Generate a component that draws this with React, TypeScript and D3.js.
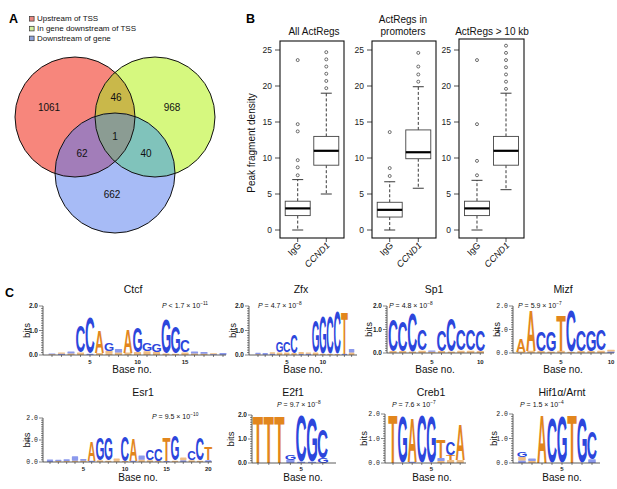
import React from "react";
import * as d3 from "d3";

const FONT = "'Liberation Sans', Arial, Helvetica, sans-serif";
const MONO = "'Liberation Mono', 'DejaVu Sans Mono', monospace";

// ---------------- Panel A data ----------------
const vennSetNames = ["Upstream of TSS", "In gene downstream of TSS", "Downstream of gene"];
const vennRegionKeys = ["U", "I", "D", "UI", "UD", "ID", "UID"];
const vennRegionCounts = [1061, 968, 662, 46, 62, 40, 1];

// ---------------- Panel B data ----------------
const boxTitles = [["All ActRegs"], ["ActRegs in", "promoters"], ["ActRegs > 10 kb"]];
const boxGroups = ["IgG", "CCND1"];
const boxYTicks = [0, 5, 10, 15, 20, 25];
// [lower whisker, q1, median, q3, upper whisker]
const allIgGStats = [0, 2, 3, 4, 7];
const allCCND1Stats = [5, 9, 11, 13, 19];
const allIgGOut = [7.6, 8.7, 9.7, 13.7, 14.7, 23.6];
const allCCND1Out = [19.7, 20.7, 21.7, 22.7, 23.7, 24.7];
const promIgGStats = [0, 1.8, 2.8, 3.85, 6.7];
const promCCND1Stats = [5.8, 9.9, 10.8, 13.9, 19.9];
const promIgGOut = [7.5, 8.6, 13.6];
const promCCND1Out = [20.6, 21.6, 22.7, 24.6];
const kbIgGStats = [0, 2, 3, 4, 6.9];
const kbCCND1Stats = [5.6, 9, 11, 13, 19];
const kbIgGOut = [7.6, 9.6, 14.7, 23.6];
const kbCCND1Out = [19.6, 20.6, 21.6, 22.6, 23.6, 24.6, 25.6];

// ---------------- Panel C data ----------------
type Col = [string, number][];
const motifNames = ["Ctcf", "Zfx", "Sp1", "Mizf", "Esr1", "E2f1", "Creb1", "Hif1α/Arnt"];
const motifRel = ["<", "=", "=", "=", "=", "=", "=", "="];
const motifMant = ["1.7", "4.7", "4.8", "5.9", "9.5", "9.7", "7.6", "1.5"];
const motifExp = ["−11", "−8", "−8", "−7", "−10", "−8", "−7", "−4"];
const logoYTicks = ["0.0", "1.0", "2.0"];

const ctcfCols: Col[] = [
  [["T", 0.03], ["C", 0.03]],
  [["G", 0.05], ["A", 0.05]],
  [["C", 0.08], ["T", 0.06]],
  [["C", 1.06], ["T", 0.06], ["A", 0.04]],
  [["C", 1.47], ["G", 0.05]],
  [["A", 0.9], ["T", 0.08]],
  [["G", 0.3], ["A", 0.12], ["T", 0.05]],
  [["C", 0.15], ["T", 0.1]],
  [["A", 0.95], ["T", 0.1]],
  [["G", 1.0], ["A", 0.12]],
  [["G", 0.3], ["A", 0.15]],
  [["G", 0.3], ["T", 0.12]],
  [["G", 1.4], ["T", 0.06]],
  [["G", 1.05], ["A", 0.05]],
  [["C", 0.5], ["T", 0.1]],
  [["G", 0.08], ["A", 0.06]],
  [["C", 0.07], ["A", 0.05]],
  [["A", 0.04], ["C", 0.03]],
  [["C", 0.05], ["G", 0.03]],
];
const zfxCols: Col[] = [
  [["C", 0.06], ["A", 0.03]],
  [["C", 0.05], ["G", 0.03]],
  [["A", 0.06], ["C", 0.05]],
  [["G", 0.4], ["A", 0.1]],
  [["C", 0.45], ["A", 0.1]],
  [["C", 0.75], ["A", 0.08]],
  [["A", 0.08], ["C", 0.04]],
  [["G", 0.05], ["A", 0.05]],
  [["G", 1.3], ["A", 0.1]],
  [["G", 1.5], ["A", 0.05]],
  [["C", 1.5], ["T", 0.05]],
  [["C", 1.7], ["A", 0.04]],
  [["T", 1.7], ["C", 0.05]],
  [["C", 0.15], ["A", 0.1]],
];
const sp1Cols: Col[] = [
  [["C", 1.33], ["A", 0.08]],
  [["C", 1.28], ["T", 0.08]],
  [["C", 1.6], ["A", 0.06]],
  [["C", 0.9], ["A", 0.1]],
  [["C", 0.06], ["A", 0.05]],
  [["C", 0.9], ["T", 0.08]],
  [["C", 1.4], ["A", 0.06]],
  [["C", 0.9], ["T", 0.1]],
  [["C", 0.9], ["A", 0.1]],
  [["C", 0.9], ["A", 0.08]],
];
const mizfCols: Col[] = [
  [["A", 0.55], ["T", 0.06]],
  [["A", 1.7], ["T", 0.1]],
  [["C", 0.85], ["A", 0.08]],
  [["G", 0.85], ["A", 0.06]],
  [["T", 1.5], ["A", 0.1]],
  [["C", 1.75], ["T", 0.05]],
  [["C", 0.9], ["A", 0.08]],
  [["G", 0.9], ["T", 0.08]],
  [["C", 0.9], ["A", 0.1]],
  [["A", 0.08], ["C", 0.06]],
];
const esr1Cols: Col[] = [
  [["C", 0.06], ["G", 0.05]],
  [["G", 0.06], ["A", 0.04]],
  [["C", 0.07], ["A", 0.05]],
  [["C", 0.2], ["T", 0.06]],
  [["G", 0.08], ["A", 0.06]],
  [["A", 0.85], ["G", 0.06]],
  [["G", 1.0], ["A", 0.08]],
  [["G", 1.0], ["T", 0.06]],
  [["T", 0.1], ["A", 0.06]],
  [["C", 1.12], ["T", 0.05]],
  [["A", 1.0], ["G", 0.06]],
  [["G", 0.2], ["A", 0.1]],
  [["C", 0.45], ["A", 0.08]],
  [["C", 0.55], ["T", 0.06]],
  [["T", 1.08], ["C", 0.05]],
  [["G", 1.15], ["A", 0.06]],
  [["A", 0.12], ["C", 0.08]],
  [["C", 0.4], ["T", 0.08]],
  [["C", 1.0], ["A", 0.06]],
  [["T", 0.6], ["C", 0.08]],
];
const e2f1Cols: Col[] = [
  [["T", 1.97]],
  [["T", 1.97]],
  [["T", 1.97]],
  [["G", 0.22], ["C", 0.14]],
  [["C", 1.9], ["G", 0.05]],
  [["G", 1.8], ["C", 0.05]],
  [["C", 1.2], ["G", 0.2]],
];
const creb1Cols: Col[] = [
  [["T", 1.95]],
  [["G", 1.9]],
  [["A", 1.8], ["C", 0.05]],
  [["C", 1.95]],
  [["G", 1.9]],
  [["T", 0.75], ["C", 0.12], ["A", 0.08]],
  [["C", 0.55], ["T", 0.2], ["A", 0.12]],
  [["A", 1.45], ["T", 0.12]],
];
const hif1Cols: Col[] = [
  [["G", 0.2], ["A", 0.15], ["C", 0.1]],
  [["C", 0.1], ["A", 0.08]],
  [["A", 1.95]],
  [["C", 1.85]],
  [["G", 1.9]],
  [["T", 1.95]],
  [["G", 1.85]],
  [["C", 1.15], ["G", 0.15]],
];
const motifCols = [ctcfCols, zfxCols, sp1Cols, mizfCols, esr1Cols, e2f1Cols, creb1Cols, hif1Cols];
const motifTickLabels = [[5, 10, 15], [5, 10], [5, 10], [5, 10], [5, 10, 15, 20], [5], [5], [5]];

// ---------------- Layout (positions/styles) ----------------
const vennCircles = [
  { cx: 75, cy: 117, fill: "#F7867C" },
  { cx: 155, cy: 117, fill: "#D6F87F" },
  { cx: 115, cy: 173, fill: "#A7BBF6" },
];
const VR = 60;
const vennLabelPos: Record<string, [number, number]> = {
  U: [49, 111], I: [172, 111], D: [112, 198], UI: [116, 101], UD: [82, 157], ID: [146, 157], UID: [115, 140],
};
const legendSwatch = ["#E8877F", "#D2EE9C", "#8EA2DA"];

const boxFrames = [
  { left: 280, right: 344, top: 41, titleX: 314 },
  { left: 372, right: 436, top: 41, titleX: 403 },
  { left: 459, right: 524, top: 39, titleX: 492 },
];
const BOX_BOTTOM = 238;

type LogoLayout = {
  axisX: number; xEnd: number; zeroY: number; twoY: number; pos1: number; step: number;
  titleX: number; titleY: number; pX: number; pY: number; bitsX: number; baseX: number; baseY: number;
  tickY: number; mono: boolean;
};
const logoLayouts: LogoLayout[] = [
  { axisX: 43, xEnd: 226, zeroY: 355, twoY: 306, pos1: 52, step: 9.5, titleX: 133, titleY: 293, pX: 162, pY: 308, bitsX: 30, baseX: 132, baseY: 373, tickY: 364, mono: false },
  { axisX: 249, xEnd: 357, zeroY: 355, twoY: 306, pos1: 258, step: 7.2, titleX: 301, titleY: 293, pX: 258, pY: 308, bitsX: 236, baseX: 303, baseY: 373, tickY: 364, mono: false },
  { axisX: 387, xEnd: 484, zeroY: 353, twoY: 306, pos1: 393, step: 9.7, titleX: 434, titleY: 293, pX: 389, pY: 308, bitsX: 372, baseX: 435, baseY: 373, tickY: 364, mono: false },
  { axisX: 513, xEnd: 614, zeroY: 353, twoY: 306, pos1: 521, step: 10, titleX: 563, titleY: 293, pX: 518, pY: 308, bitsX: 500, baseX: 563, baseY: 373, tickY: 364, mono: true },
  { axisX: 43, xEnd: 212, zeroY: 462, twoY: 418, pos1: 50, step: 8.33, titleX: 143, titleY: 396, pX: 152, pY: 419, bitsX: 30, baseX: 138, baseY: 481, tickY: 471, mono: true },
  { axisX: 252, xEnd: 336, zeroY: 463, twoY: 415, pos1: 258, step: 10.8, titleX: 293, titleY: 396, pX: 277, pY: 407, bitsX: 234, baseX: 303, baseY: 481, tickY: 471, mono: false },
  { axisX: 385, xEnd: 466, zeroY: 463, twoY: 414, pos1: 393, step: 9.6, titleX: 431, titleY: 396, pX: 392, pY: 407, bitsX: 367, baseX: 432, baseY: 481, tickY: 471, mono: true },
  { axisX: 513, xEnd: 600, zeroY: 463, twoY: 414, pos1: 522, step: 10, titleX: 562, titleY: 396, pX: 520, pY: 407, bitsX: 497, baseX: 562, baseY: 481, tickY: 471, mono: true },
];

const letterColor: Record<string, string> = { A: "#E2861D", T: "#E2861D", C: "#2C46DC", G: "#2C46DC" };

type GM = { l: number; r: number; t: number; b: number };
let glyphCache: Record<string, GM> | null = null;
function glyphs(): Record<string, GM> {
  if (glyphCache) return glyphCache;
  const res: Record<string, GM> = {};
  let ctx: CanvasRenderingContext2D | null = null;
  try { ctx = document.createElement("canvas").getContext("2d"); } catch (e) { ctx = null; }
  for (const L of ["A", "C", "G", "T"]) {
    let m: GM = { l: 0, r: 70, t: -72, b: 0 };
    if (ctx) {
      ctx.font = "bold 100px 'Liberation Sans'";
      const mm = ctx.measureText(L);
      if (mm.actualBoundingBoxRight !== undefined) {
        m = { l: -mm.actualBoundingBoxLeft, r: mm.actualBoundingBoxRight, t: -mm.actualBoundingBoxAscent, b: mm.actualBoundingBoxDescent };
      }
    }
    res[L] = m;
  }
  glyphCache = res;
  return res;
}

function PValue({ x, y, rel, mant, exp }: { x: number; y: number; rel: string; mant: string; exp: string }) {
  return (
    <text x={x} y={y} fontSize={7} fontFamily={FONT} fill="#111">
      <tspan fontStyle="italic">P</tspan>
      <tspan>{` ${rel} ${mant} × 10`}</tspan>
      <tspan fontSize={4.8} dy={-3}>{exp}</tspan>
    </text>
  );
}

function Logo({ idx }: { idx: number }) {
  const L = logoLayouts[idx];
  const cols = motifCols[idx];
  const gm = glyphs();
  const y = d3.scaleLinear().domain([0, 2]).range([L.zeroY, L.twoY]);
  const x = (i: number) => L.pos1 + (i - 1) * L.step;
  const lw = L.step * 0.94;
  const minor = d3.range(0, 2.0001, 0.1);
  const letters: React.ReactNode[] = [];
  cols.forEach((col, ci) => {
    const sorted = [...col].sort((a, b) => a[1] - b[1]);
    let base = 0;
    const cx = x(ci + 1);
    sorted.forEach(([ch, h], k) => {
      const yBot = y(base);
      const yTop = y(base + h);
      base += h;
      const hh = yBot - yTop;
      if (hh < 0.4) return;
      if (hh < 4.5) {
        // tiny letters render as small colour blobs
        letters.push(
          <rect key={`${ci}-${k}`} x={cx - lw * 0.4} y={yTop} width={lw * 0.8} height={hh}
            fill={letterColor[ch]} opacity={0.55} rx={0.6} />
        );
        return;
      }
      const m = gm[ch];
      const sx = lw / (m.r - m.l);
      const sy = hh / (m.b - m.t);
      letters.push(
        <text key={`${ci}-${k}`} x={0} y={0} fontSize={100} fontWeight="bold" fontFamily="'Liberation Sans', Arial, sans-serif"
          fill={letterColor[ch]}
          transform={`translate(${cx - lw / 2},${yTop}) scale(${sx},${sy}) translate(${-m.l},${-m.t})`}>
          {ch}
        </text>
      );
    });
  });
  const tickFont = L.mono ? MONO : FONT;
  return (
    <g>
      <text x={L.titleX} y={L.titleY} fontSize={10.5} fontFamily={FONT} textAnchor="middle" fill="#111">{motifNames[idx]}</text>
      <PValue x={L.pX} y={L.pY} rel={motifRel[idx]} mant={motifMant[idx]} exp={motifExp[idx]} />
      {letters}
      <line x1={L.axisX} x2={L.axisX} y1={y(0)} y2={y(2)} stroke="#333" strokeWidth={0.8} />
      <line x1={L.axisX} x2={L.xEnd} y1={y(0)} y2={y(0)} stroke="#333" strokeWidth={0.8} />
      {minor.map((v, i) => (
        <line key={i} x1={L.axisX - (i % 10 === 0 ? 4 : 2)} x2={L.axisX} y1={y(v)} y2={y(v)} stroke="#333" strokeWidth={0.6} />
      ))}
      {logoYTicks.map((t) => (
        <text key={t} x={L.axisX - 5} y={y(+t)} dy="0.35em" fontSize={6.5} fontWeight={L.mono ? "normal" : "bold"} fontFamily={tickFont} textAnchor="end" fill="#222">{t}</text>
      ))}
      {cols.map((_, i) => (
        <line key={i} x1={x(i + 1)} x2={x(i + 1)} y1={y(0)} y2={y(0) + 2} stroke="#333" strokeWidth={0.6} />
      ))}
      {motifTickLabels[idx].map((t) => (
        <text key={t} x={x(t)} y={L.tickY} fontSize={6} fontWeight="bold" fontFamily={FONT} textAnchor="middle" fill="#222">{t}</text>
      ))}
      <text x={L.baseX} y={L.baseY} fontSize={10} fontFamily={FONT} textAnchor="middle" fill="#111">Base no.</text>
      <text transform={`translate(${L.bitsX},${(y(0) + y(2)) / 2}) rotate(-90)`} fontSize={9.5} fontFamily={FONT} textAnchor="middle" fill="#111">bits</text>
    </g>
  );
}

function BoxPanel({ idx }: { idx: number }) {
  const F = boxFrames[idx];
  const stats = [[allIgGStats, allCCND1Stats], [promIgGStats, promCCND1Stats], [kbIgGStats, kbCCND1Stats]][idx];
  const outs = [[allIgGOut, allCCND1Out], [promIgGOut, promCCND1Out], [kbIgGOut, kbCCND1Out]][idx];
  const y = d3.scaleLinear().domain([0, 25]).range([230, 50]);
  const x = d3.scalePoint<string>().domain(boxGroups).range([F.left, F.right]).padding(0.62);
  const bw = 25;
  const cap = 11;
  const title = boxTitles[idx];
  return (
    <g fontFamily={FONT}>
      {title.map((t, i) => (
        <text key={i} x={F.titleX} y={35 - (title.length - 1 - i) * 12} fontSize={10} textAnchor="middle" fill="#111">{t}</text>
      ))}
      {boxYTicks.map((t) => (
        <g key={t}>
          <line x1={F.left - 5} x2={F.left} y1={y(t)} y2={y(t)} stroke="#222" strokeWidth={0.8} />
          <text x={F.left - 8} y={y(t)} dy="0.35em" fontSize={8.5} textAnchor="end" fill="#222">{t}</text>
        </g>
      ))}
      {boxGroups.map((g, gi) => {
        const cx = x(g)!;
        const [lo, q1, med, q3, hi] = stats[gi];
        return (
          <g key={g}>
            <line x1={cx} x2={cx} y1={y(q3)} y2={y(hi)} stroke="#222" strokeWidth={0.9} strokeDasharray="3,2" />
            <line x1={cx} x2={cx} y1={y(q1)} y2={y(lo)} stroke="#222" strokeWidth={0.9} strokeDasharray="3,2" />
            <line x1={cx - cap / 2} x2={cx + cap / 2} y1={y(hi)} y2={y(hi)} stroke="#222" strokeWidth={0.9} />
            <line x1={cx - cap / 2} x2={cx + cap / 2} y1={y(lo)} y2={y(lo)} stroke="#222" strokeWidth={0.9} />
            <rect x={cx - bw / 2} y={y(q3)} width={bw} height={y(q1) - y(q3)} fill="#fff" stroke="#444" strokeWidth={0.9} />
            <line x1={cx - bw / 2} x2={cx + bw / 2} y1={y(med)} y2={y(med)} stroke="#000" strokeWidth={2.2} />
            {outs[gi].map((v, k) => (
              <circle key={k} cx={cx} cy={y(v)} r={1.5} fill="none" stroke="#333" strokeWidth={0.7} />
            ))}
            <line x1={cx} x2={cx} y1={BOX_BOTTOM} y2={BOX_BOTTOM + 4} stroke="#222" strokeWidth={0.8} />
            <text transform={`translate(${cx + 4},${BOX_BOTTOM + 8}) rotate(-45)`} fontSize={9} textAnchor="end"
              fontStyle={g === "CCND1" ? "italic" : "normal"} fill="#111">{g}</text>
          </g>
        );
      })}
      <rect x={F.left} y={F.top} width={F.right - F.left} height={BOX_BOTTOM - F.top} fill="none" stroke="#111" strokeWidth={1.1} />
    </g>
  );
}

function Venn() {
  const [U, I, D] = vennCircles;
  return (
    <g fontFamily={FONT}>
      <defs>
        <clipPath id="cU"><circle cx={U.cx} cy={U.cy} r={VR} /></clipPath>
        <clipPath id="cI"><circle cx={I.cx} cy={I.cy} r={VR} /></clipPath>
      </defs>
      {vennCircles.map((c, i) => <circle key={i} cx={c.cx} cy={c.cy} r={VR} fill={c.fill} />)}
      <g clipPath="url(#cU)"><circle cx={I.cx} cy={I.cy} r={VR} fill="#C9B84A" /></g>
      <g clipPath="url(#cU)"><circle cx={D.cx} cy={D.cy} r={VR} fill="#A27DB9" /></g>
      <g clipPath="url(#cI)"><circle cx={D.cx} cy={D.cy} r={VR} fill="#80C3BB" /></g>
      <g clipPath="url(#cU)"><g clipPath="url(#cI)"><circle cx={D.cx} cy={D.cy} r={VR} fill="#8B9C93" /></g></g>
      {vennCircles.map((c, i) => <circle key={"o" + i} cx={c.cx} cy={c.cy} r={VR} fill="none" stroke="#111" strokeWidth={1} />)}
      {vennRegionKeys.map((k, i) => (
        <text key={k} x={vennLabelPos[k][0]} y={vennLabelPos[k][1]} fontSize={10} textAnchor="middle" fill="#111">{vennRegionCounts[i]}</text>
      ))}
      {vennSetNames.map((n, i) => (
        <g key={n}>
          <rect x={29.5} y={16.5 + i * 9.8} width={4.6} height={4.6} fill={legendSwatch[i]} stroke="#333" strokeWidth={0.7} />
          <text x={37} y={21.3 + i * 9.8} fontSize={8} fill="#111">{n}</text>
        </g>
      ))}
    </g>
  );
}

export default function App() {
  return (
    <svg width={617} height={489} viewBox="0 0 617 489" style={{ position: "fixed", left: 0, top: 0, background: "#fff" }}>
      <rect x={0} y={0} width={617} height={489} fill="#fff" />
      <g fontFamily={FONT} fontWeight="bold" fill="#000">
        <text x={9} y={23} fontSize={12.5}>A</text>
        <text x={246} y={23} fontSize={12.5}>B</text>
        <text x={5} y={297} fontSize={12.5}>C</text>
      </g>
      <Venn />
      <text transform="translate(255,143) rotate(-90)" fontSize={10} fontFamily={FONT} textAnchor="middle" fill="#111">Peak fragment density</text>
      {boxFrames.map((_, i) => <BoxPanel key={i} idx={i} />)}
      {logoLayouts.map((_, i) => <Logo key={i} idx={i} />)}
    </svg>
  );
}
